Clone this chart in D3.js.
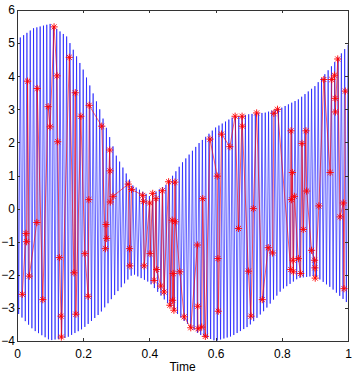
<!DOCTYPE html>
<html lang="en">
    <head>
        <meta charset="utf-8">
        <title>Sampled signal</title>
        <script type="text/javascript" src="https://cdn.jsdelivr.net/npm/d3@7"></script>
        <style>
            body { margin: 0; background: white; }
            .axis text {
                font-family: "Liberation Sans", Arial, sans-serif;
                font-size: 12px;
                fill: black;
            }
        </style>
    </head>
    <body>
        <script type="text/javascript">

            // envelope of the fast blue signal
            var envT     = [0, 0.05, 0.1, 0.15, 0.2, 0.25, 0.3, 0.35, 0.4, 0.45, 0.5, 0.55, 0.6, 0.65, 0.7, 0.75, 0.8, 0.85, 0.9, 0.95, 1];
            var envUpper = [5.1, 5.45, 5.58, 5.2, 4.2, 3.0, 1.6, 0.7, 0.38, 0.72, 1.4, 1.98, 2.45, 2.75, 2.85, 2.9, 3.05, 3.3, 3.7, 4.3, 4.95];
            var envLower = [-3.13, -3.67, -3.98, -3.9, -3.62, -3.17, -2.55, -1.97, -2.23, -2.8, -3.35, -3.8, -4.0, -3.85, -3.55, -3.05, -2.45, -2.1, -2.03, -2.4, -2.87];
            var cycles = 100;

            // red samples (time, value)
            var sampleT = [0.016, 0.027, 0.029, 0.032, 0.037, 0.060, 0.061, 0.078, 0.094, 0.100,
                           0.112, 0.121, 0.123, 0.128, 0.133, 0.134, 0.158, 0.172, 0.176, 0.178,
                           0.193, 0.205, 0.215, 0.217, 0.218, 0.256, 0.267, 0.269, 0.271, 0.280,
                           0.281, 0.282, 0.290, 0.336, 0.340, 0.341, 0.346, 0.380, 0.382, 0.384,
                           0.401, 0.402, 0.410, 0.414, 0.420, 0.422, 0.434, 0.439, 0.444, 0.458,
                           0.462, 0.469, 0.470, 0.472, 0.474, 0.477, 0.478, 0.492, 0.505, 0.525,
                           0.545, 0.546, 0.547, 0.558, 0.561, 0.569, 0.583, 0.605, 0.607, 0.608,
                           0.618, 0.643, 0.659, 0.669, 0.680, 0.681, 0.699, 0.707, 0.714, 0.724,
                           0.741, 0.759, 0.772, 0.776, 0.787, 0.827, 0.828, 0.829, 0.832, 0.834,
                           0.835, 0.838, 0.850, 0.857, 0.861, 0.865, 0.873, 0.875, 0.890, 0.899,
                           0.900, 0.901, 0.912, 0.927, 0.946, 0.951, 0.959, 0.961, 0.962, 0.969,
                           0.976, 0.986, 0.988, 0.992];
            var sampleV = [-2.59, -0.75, -1.00, 3.85, -2.04, -0.42, 3.63, -2.75, 3.08, 2.47,
                           5.49, 4.01, 2.02, -1.48, -3.25, -3.88, 4.57, -1.94, 3.50, -3.19,
                           2.79, -1.36, -2.65, 0.27, 3.12, 2.49, -1.21, -0.48, -0.90, 1.77,
                           1.14, 0.20, 0.37, 0.74, -1.21, -1.73, 0.58, 0.40, 0.22, -1.73,
                           0.17, -1.36, 0.46, -2.17, 0.30, -1.84, -2.34, 0.54, -2.52, 0.81,
                           -2.92, -0.35, -2.77, -1.96, -3.07, 0.80, -0.40, -1.91, -3.27, -3.60,
                           -1.10, -2.95, -3.63, -3.58, 0.30, -3.86, 2.10, 0.98, -1.51, -3.10,
                           2.25, 1.87, 2.79, -0.60, 2.79, 2.49, -1.89, -3.25, 0.00, 2.89,
                           -2.75, -1.18, -1.34, 2.88, 3.00, -1.84, 2.35, 0.27, 1.09, -1.56,
                           -1.91, 0.37, -1.51, -1.96, 1.97, -0.63, 2.35, 0.53, -1.26, -1.56,
                           -1.79, -2.10, 0.08, 3.90, 1.09, 3.90, 4.03, 3.33, 2.92, 4.52,
                           -0.25, 0.17, -2.42, 3.55];

            var xTicks = [0, 0.2, 0.4, 0.6, 0.8, 1];
            var yTicks = [-4, -3, -2, -1, 0, 1, 2, 3, 4, 5, 6];

            var w = 357;
            var h = 376;
            // plot box edges (note: "top" is reserved on window)
            var padL = 17, padR = 348, padT = 10, padB = 341;

            var svg = d3.select("body").append("svg").attr("width", w).attr("height", h);

            var xScale = d3.scaleLinear().domain([0, 1]).range([padL, padR]);
            var yScale = d3.scaleLinear().domain([-4, 6]).range([padB, padT]);

            // envelopes as piecewise scales
            var upperAt = d3.scaleLinear().domain(envT).range(envUpper);
            var lowerAt = d3.scaleLinear().domain(envT).range(envLower);

            // the blue trace swings between the two envelopes every half cycle
            var blue = d3.range(2 * cycles + 1).map(function(k) {
                var t = k / (2 * cycles);
                return [t, k % 2 === 0 ? upperAt(t) : lowerAt(t)];
            });

            svg.append("clipPath").attr("id", "plot-area")
                .append("rect")
                .attr("x", padL).attr("y", padT)
                .attr("width", padR - padL).attr("height", padB - padT);

            var plot = svg.append("g").attr("clip-path", "url(#plot-area)");

            var line = d3.line()
                .x(function(d) { return xScale(d[0]); })
                .y(function(d) { return yScale(d[1]); });

            plot.append("path")
                .datum(blue)
                .attr("d", line)
                .attr("fill", "none")
                .attr("stroke", "#0000ff")
                .attr("stroke-width", 0.6);

            var samples = sampleT.map(function(t, i) { return [t, sampleV[i]]; });

            plot.append("path")
                .datum(samples)
                .attr("d", line)
                .attr("fill", "none")
                .attr("stroke", "#ff0000")
                .attr("stroke-width", 0.6);

            // asterisk markers
            var r = 3.6;
            var star = "M" + (-r) + ",0L" + r + ",0M0," + (-r) + "L0," + r +
                       "M" + (-r * 0.7) + "," + (-r * 0.7) + "L" + (r * 0.7) + "," + (r * 0.7) +
                       "M" + (-r * 0.7) + "," + (r * 0.7) + "L" + (r * 0.7) + "," + (-r * 0.7);
            svg.append("g").selectAll("path")
                .data(samples)
                .enter()
                .append("path")
                .attr("transform", function(d) { return "translate(" + xScale(d[0]) + "," + yScale(d[1]) + ")"; })
                .attr("d", star)
                .attr("fill", "none")
                .attr("stroke", "#ff0000")
                .attr("stroke-width", 0.9);

            // axes, matlab box with inward ticks
            var tl = 3.3;
            var axisColor = "#333";

            svg.append("g")
                .attr("class", "x axis")
                .attr("transform", "translate(0," + padB + ")")
                .call(d3.axisBottom(xScale).tickValues(xTicks).tickSizeInner(-tl).tickSizeOuter(0).tickPadding(8)
                      .tickFormat(function(d) { return d3.format("")(d); }));
            svg.append("g")
                .attr("class", "x axis")
                .attr("transform", "translate(0," + padT + ")")
                .call(d3.axisTop(xScale).tickValues(xTicks).tickSizeInner(-tl).tickSizeOuter(0).tickFormat(""));
            svg.append("g")
                .attr("class", "y axis")
                .attr("transform", "translate(" + padL + ",0)")
                .call(d3.axisLeft(yScale).tickValues(yTicks).tickSizeInner(-tl).tickSizeOuter(0).tickPadding(2));
            svg.append("g")
                .attr("class", "y axis")
                .attr("transform", "translate(" + padR + ",0)")
                .call(d3.axisRight(yScale).tickValues(yTicks).tickSizeInner(-tl).tickSizeOuter(0).tickFormat(""));

            svg.selectAll(".axis path, .axis line")
                .attr("stroke", axisColor)
                .attr("shape-rendering", "crispEdges");

            svg.append("text")
                .attr("class", "axis")
                .attr("x", (padL + padR) / 2)
                .attr("y", 371)
                .attr("text-anchor", "middle")
                .attr("font-family", "Liberation Sans, Arial, sans-serif")
                .attr("font-size", "12px")
                .text("Time");

        </script>
    </body>
</html>
